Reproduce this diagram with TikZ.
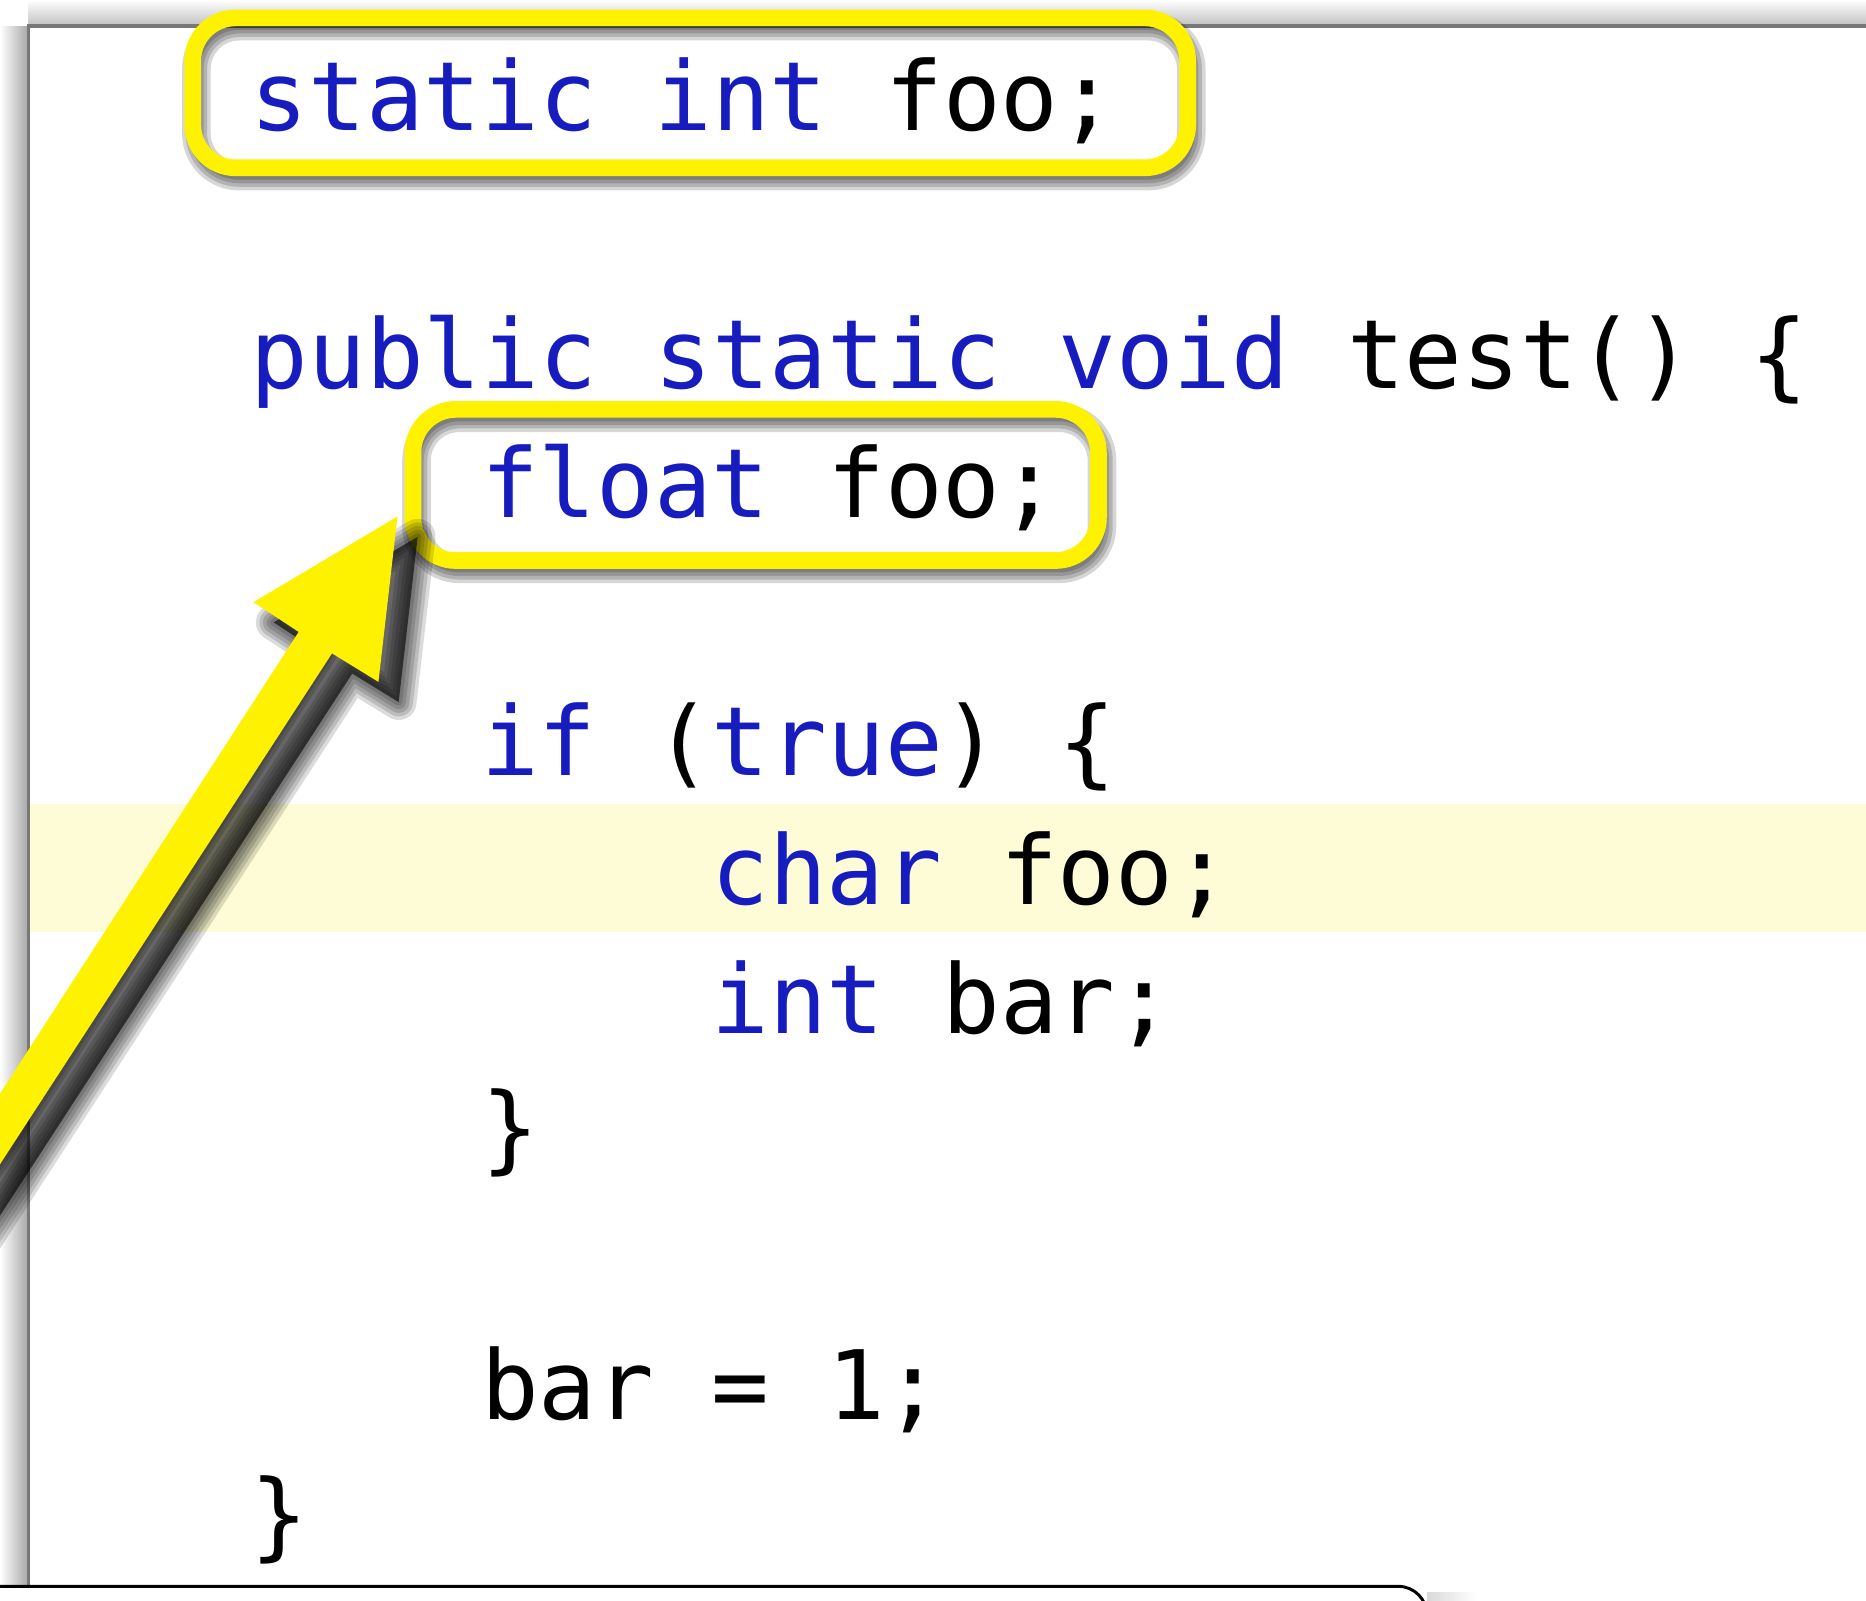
\documentclass[tikz,border=0pt]{standalone}
\usepackage{fontspec}
\newfontfamily\codemono{DejaVu Sans Mono}
\definecolor{kwblue}{RGB}{22,28,190}
\definecolor{markyellow}{RGB}{255,242,0}
\definecolor{lineband}{RGB}{253,252,214}
\definecolor{framegray}{RGB}{120,120,120}
\newcommand\codetext{\codemono\fontsize{22.9pt}{27pt}\selectfont\frenchspacing}
\newcommand\kw[1]{\textcolor{kwblue}{#1}}
\begin{document}
\begin{tikzpicture}[x=0.01cm,y=-0.01cm,
  code/.style={anchor=base west, inner sep=0pt, font=\codetext},
  markbox/.style={draw=markyellow, line width=0.14cm, rounded corners=0.36cm},
  boxshade/.style={draw=black, draw opacity=0.16, rounded corners=0.36cm},
  arrowshade/.style={draw=black, draw opacity=0.14, line join=round}]
\useasboundingbox (0,0) rectangle (1568,1345);
\clip (0,0) rectangle (1568,1345);

% editor window: soft outer shadow, white page, frame lines
\fill[white] (0,0) rectangle (1568,1345);
\shade[left color=white, right color=black!35] (0,22) rectangle (24,1333);
\shade[top color=white, bottom color=black!25] (24,0) rectangle (1568,22);
\fill[white] (24,22) rectangle (1568,1333);
\fill[lineband] (24,676) rectangle (1568,783);
\draw[framegray, line width=0.03cm] (24,1333) -- (24,22) -- (1600,22);

% panel below the window
\shade[left color=black!15, right color=white] (1199,1338) rectangle (1240,1345);
\fill[white] (-10,1333) -- (1175,1333) arc[start angle=-90, end angle=0, radius=24] -- (1199,1360) -- (-10,1360) -- cycle;
\draw[black, line width=0.025cm] (-10,1333) -- (1175,1333) arc[start angle=-90, end angle=0, radius=24] -- (1199,1360);

% source code
\node[code] (l0)  at (210,110)    {\kw{static int} foo;};
\node[code] (l2)  at (210,326.6)  {\kw{public static void} test() \{};
\node[code] (l3)  at (403.6,434.9) {\kw{float} foo;};
\node[code] (l5)  at (403.6,651.5) {\kw{if} (\kw{true}) \{};
\node[code] (l6)  at (597.2,759.8) {\kw{char} foo;};
\node[code] (l7)  at (597.2,868.1) {\kw{int} bar;};
\node[code] (l8)  at (403.6,976.4) {\}};
\node[code] (l10) at (403.6,1193)  {bar = 1;};
\node[code] (l11) at (210,1301)    {\}};

% soft shadows of the two frames
\foreach \w in {0.06,0.12,0.18,0.24}{
  \draw[boxshade, line width=\w cm] (165,22) rectangle (1001,148);
  \draw[boxshade, line width=\w cm] (350,351) rectangle (926,478);
}
% frames round the two declarations
\draw[markbox] (162,15) rectangle (998,141);
\draw[markbox] (347,344) rectangle (923,471);

% arrow pointing at the inner declaration
\coordinate (tip) at (334,434);
\coordinate (lb)  at (213,506);
\coordinate (li)  at (251,531);
\coordinate (lf)  at (-311,1400);
\coordinate (rf)  at (-274,1400);
\coordinate (ri)  at (279,549);
\coordinate (rb)  at (318,573);
\begin{scope}[transform canvas={shift={(17,17)}}]
  \fill[black, fill opacity=0.6] (tip) -- (lb) -- (li) -- (lf) -- (rf) -- (ri) -- (rb) -- cycle;
  \foreach \w in {0.06,0.12,0.18,0.24,0.30}{
    \draw[arrowshade, line width=\w cm] (tip) -- (lb) -- (li) -- (lf) -- (rf) -- (ri) -- (rb) -- cycle;
  }
\end{scope}
\fill[markyellow] (tip) -- (lb) -- (li) -- (lf) -- (rf) -- (ri) -- (rb) -- cycle;
\end{tikzpicture}
\end{document}
